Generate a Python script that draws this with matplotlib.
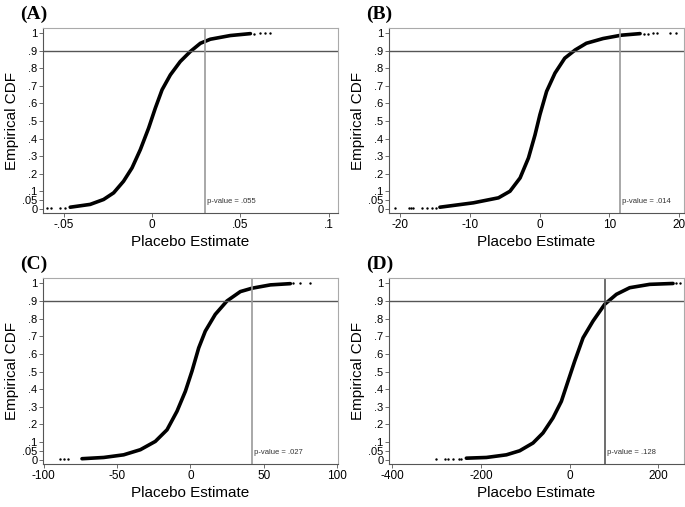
import matplotlib.pyplot as plt

# Empirical CDF: placebo estimate and cumulative share
est_a = [-0.0463, -0.035, -0.0274, -0.0217, -0.0161, -0.0113, -0.0066, -0.0019, 0.0019,
         0.0057, 0.0104, 0.016, 0.0217, 0.0274, 0.033, 0.0443, 0.0557]
cdf_a = [0.009, 0.025, 0.053, 0.091, 0.157, 0.233, 0.337, 0.46, 0.574,
         0.678, 0.763, 0.839, 0.896, 0.943, 0.966, 0.987, 0.998]

est_b = [-14.3, -9.5, -5.9, -4.25, -2.8, -1.6, -0.67, 0.04, 1.0, 2.2, 3.6, 5.1,
         6.7, 9.1, 11.7, 14.4]
cdf_b = [0.009, 0.034, 0.0625, 0.1, 0.176, 0.29, 0.42, 0.536, 0.669, 0.773, 0.858, 0.905,
         0.943, 0.97, 0.989, 0.998]

est_c = [-73.9, -59.1, -45.5, -34.1, -23.9, -15.9, -9.1, -3.4, 1.1, 5.7, 10.2, 17.0,
         25.0, 34.1, 42.0, 54.6, 68.2]
cdf_c = [0.006, 0.013, 0.028, 0.057, 0.104, 0.17, 0.275, 0.388, 0.502, 0.634, 0.729, 0.824,
         0.9, 0.953, 0.972, 0.991, 0.998]

est_d = [-233.0, -187.8, -142.7, -112.7, -82.7, -60.2, -37.7, -18.8, -3.8, 11.3, 30.1,
         52.6, 78.9, 105.3, 135.3, 180.4, 233.0]
cdf_d = [0.009, 0.013, 0.028, 0.051, 0.095, 0.152, 0.237, 0.331, 0.445, 0.559, 0.691,
         0.786, 0.881, 0.9375, 0.975, 0.994, 0.999]

# Isolated tail points (estimate, cdf)
tail_a = [(-0.0594, 0.004), (-0.057, 0.004), (-0.052, 0.004), (-0.049, 0.005),
          (0.058, 0.998), (0.061, 0.999), (0.064, 0.999), (0.067, 1.0)]
tail_b = [(-20.7, 0.002), (-18.8, 0.003), (-18.4, 0.003), (-18.1, 0.004), (-16.9, 0.005),
          (-16.2, 0.005), (-15.5, 0.006), (-14.8, 0.007),
          (15.0, 0.998), (15.6, 0.998), (16.2, 0.999), (16.8, 0.999),
          (18.7, 0.999), (19.6, 1.0)]
tail_c = [(-89.1, 0.002), (-86.5, 0.003), (-83.4, 0.004),
          (70.0, 0.999), (75.0, 0.999), (81.4, 1.0)]
tail_d = [(-300.6, 0.002), (-281.9, 0.003), (-274.4, 0.004), (-263.2, 0.005),
          (-249.6, 0.006), (-244.3, 0.007), (240.0, 0.999), (248.0, 1.0)]

panels = ["(A)", "(B)", "(C)", "(D)"]
estimates = [est_a, est_b, est_c, est_d]
cdfs = [cdf_a, cdf_b, cdf_c, cdf_d]
tails = [tail_a, tail_b, tail_c, tail_d]
actual = [0.0298, 11.5, 42.0, 78.9]
p_values = [".055", ".014", ".027", ".128"]
xlims = [(-0.0617, 0.1053), (-21.6, 20.7), (-100.5, 100.7), (-407.4, 257.7)]
xticks = [[-0.05, 0, 0.05, 0.1], [-20, -10, 0, 10, 20], [-100, -50, 0, 50, 100],
          [-400, -200, 0, 200]]
xticklabels = [["-.05", "0", ".05", ".1"], ["-20", "-10", "0", "10", "20"],
               ["-100", "-50", "0", "50", "100"], ["-400", "-200", "0", "200"]]
yticks = [0, 0.05, 0.1, 0.2, 0.3, 0.4, 0.5, 0.6, 0.7, 0.8, 0.9, 1]
yticklabels = ["0", ".05", ".1", ".2", ".3", ".4", ".5", ".6", ".7", ".8", ".9", "1"]

plt.rcParams["font.family"] = ["Liberation Sans", "DejaVu Sans"]
fig = plt.figure(figsize=(6.85, 5.07), dpi=100)
W, H = 685, 507
boxes = [(43, 28, 338, 213), (389, 28, 684, 213), (43, 278, 338, 464), (389, 278, 684, 464)]
label_pos = [(20, 14), (366, 14), (20, 264), (366, 264)]

for i in range(4):
    l, t, r, b = boxes[i]
    ax = fig.add_axes([l / W, 1 - b / H, (r - l) / W, (b - t) / H])
    ax.plot(estimates[i], cdfs[i], color="black", lw=2.6,
            solid_capstyle="round", solid_joinstyle="round")
    tx = [p[0] for p in tails[i]]
    ty = [p[1] for p in tails[i]]
    ax.scatter(tx, ty, s=3, color="black", zorder=3, linewidths=0)
    ax.axhline(0.9, color="#555555", lw=1.0)
    ax.axvline(actual[i], color="#999999" if i < 3 else "#555555", lw=1.2)
    ax.text(actual[i], 0.022, " p-value = " + p_values[i], fontsize=5.5,
            color="#333333", ha="left", va="bottom")
    ax.set_xlim(xlims[i])
    ax.set_ylim(-0.024, 1.03)
    ax.set_xticks(xticks[i])
    ax.set_xticklabels(xticklabels[i])
    ax.set_yticks(yticks)
    ax.set_yticklabels(yticklabels)
    ax.tick_params(labelsize=8.5, length=3, width=0.6, color="#555555", pad=1)
    ax.tick_params(axis="y", labelsize=8)
    ax.set_xlabel("Placebo Estimate", fontsize=11, labelpad=3)
    ax.set_ylabel("Empirical CDF", fontsize=11, labelpad=2)
    for side in ["left", "bottom"]:
        ax.spines[side].set_color("#555555")
        ax.spines[side].set_linewidth(0.8)
    for side in ["right", "top"]:
        ax.spines[side].set_color("#aaaaaa")
        ax.spines[side].set_linewidth(0.8)
    fig.text(label_pos[i][0] / W, 1 - label_pos[i][1] / H, panels[i],
             fontsize=14, fontweight="bold", family="Liberation Serif",
             ha="left", va="center")

fig.savefig("out.png", dpi=100)
